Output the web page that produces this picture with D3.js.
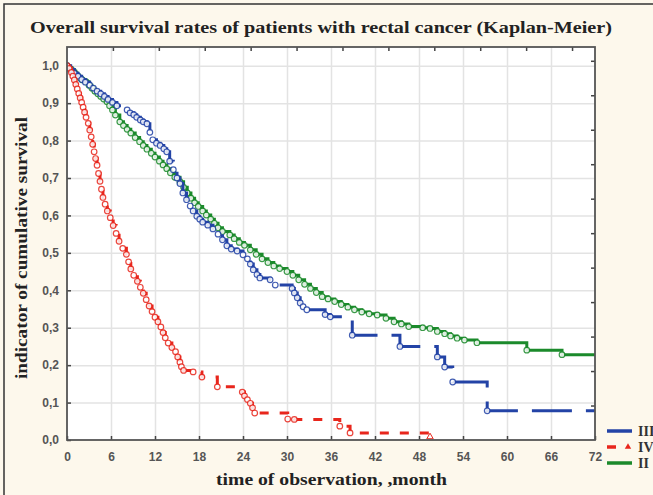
<!DOCTYPE html>
<html>
<head>
<meta charset="utf-8">
<script src="https://cdn.jsdelivr.net/npm/d3@7"></script>
<style>
  body { margin: 0; background: #fdf8ec; }
  svg { display: block; }
</style>
</head>
<body>
<svg id="chart"></svg>
<script>
const w = 653;
const h = 495;
const margin = {left: 67, right: 58, top: 47, bottom: 55};
const serif = '"Liberation Serif", "Times New Roman", serif';
const sans = '"Liberation Sans", Arial, sans-serif';

const titleText = 'Overall survival rates of patients with rectal cancer (Kaplan-Meier)';
const xTitle = 'time of observation, ,month';
const yTitle = 'indicator of cumulative survival';

//tick values
const xTicks = [0, 6, 12, 18, 24, 30, 36, 42, 48, 54, 60, 66, 72];
const yTicks = [0, 0.1, 0.2, 0.3, 0.4, 0.5, 0.6, 0.7, 0.8, 0.9, 1.0];

//stage II (months, cumulative survival)
const monthsII = [0, 0.3, 0.6, 0.9, 1.2, 1.5, 1.8, 2.1, 2.6, 3.0, 3.4, 3.8, 4.2, 4.6, 5.0, 5.45,
    5.8, 6.2, 6.6, 7.2, 7.7, 8.2, 8.7, 9.3, 9.9, 10.4, 10.9, 11.5, 12.0, 12.6, 13.1, 13.6,
    14.1, 14.7, 15.4, 15.9, 16.4, 16.9, 17.4, 17.9, 18.5, 19.0, 19.6, 20.1, 20.6, 21.2, 22.2,
    22.8, 23.5, 24.2, 25.0, 25.8, 26.6, 27.4, 28.2, 29.0, 30.0, 30.8, 31.6, 32.4, 33.2, 34.0,
    34.8, 35.6, 36.5, 37.4, 38.3, 39.2, 40.2, 41.2, 42.3, 43.5, 44.6, 45.6, 46.6, 48.5, 49.5,
    50.5, 51.5, 52.3, 53.2, 54.2, 55.9, 62.7, 67.5];
const survII = [1.0, 0.995, 0.99, 0.985, 0.978, 0.972, 0.967, 0.962, 0.957, 0.948, 0.94, 0.932, 0.925, 0.918, 0.911, 0.904,
    0.893, 0.882, 0.868, 0.85, 0.84, 0.83, 0.82, 0.808, 0.797, 0.787, 0.777, 0.766, 0.756, 0.745, 0.735, 0.725,
    0.714, 0.702, 0.69, 0.675, 0.66, 0.646, 0.634, 0.624, 0.612, 0.601, 0.59, 0.579, 0.567, 0.557, 0.548,
    0.538, 0.528, 0.52, 0.508, 0.496, 0.484, 0.474, 0.465, 0.458, 0.45, 0.44, 0.428, 0.416, 0.405, 0.394,
    0.383, 0.377, 0.37, 0.362, 0.355, 0.348, 0.342, 0.337, 0.334, 0.325, 0.316, 0.31, 0.303, 0.3, 0.298,
    0.29, 0.284, 0.278, 0.272, 0.267, 0.26, 0.24, 0.228];

//stage III
const monthsIII = [0, 0.5, 1.0, 1.5, 2.0, 2.5, 3.1, 3.6, 4.1, 4.6, 5.1, 5.6, 6.2, 6.8, 8.2, 8.6,
    9.1, 9.5, 10.0, 10.4, 10.9, 11.3, 11.7, 12.2, 12.7, 13.2, 13.6, 14.0, 14.5, 15.0, 15.4, 15.8,
    16.3, 16.8, 17.2, 17.7, 18.1, 18.5, 19.2, 19.9, 20.6, 21.2, 21.8, 22.4, 23.2, 24.0, 24.6,
    25.0, 25.4, 25.9, 26.3, 27.7, 28.4, 30.7, 31.0, 31.4, 31.8, 32.2, 32.7, 35.2, 35.9, 38.9,
    45.4, 50.5, 51.5, 52.6, 57.3];
const survIII = [1.0, 0.99, 0.98, 0.972, 0.963, 0.956, 0.948, 0.94, 0.932, 0.925, 0.918, 0.91, 0.902, 0.893, 0.882, 0.874,
    0.869, 0.862, 0.855, 0.85, 0.845, 0.822, 0.802, 0.793, 0.787, 0.778, 0.77, 0.745, 0.722, 0.7, 0.685, 0.66,
    0.642, 0.625, 0.612, 0.598, 0.59, 0.582, 0.574, 0.564, 0.55, 0.535, 0.519, 0.51, 0.505, 0.495, 0.484,
    0.47, 0.455, 0.442, 0.433, 0.428, 0.414, 0.405, 0.393, 0.38, 0.366, 0.356, 0.348, 0.335, 0.329, 0.28,
    0.25, 0.222, 0.195, 0.155, 0.078];

//stage IV
const monthsIV = [0, 0.3, 0.6, 0.8, 1.0, 1.2, 1.4, 1.6, 1.8, 2.0, 2.2, 2.4, 2.6, 2.9, 3.1, 3.3,
    3.5, 3.7, 3.9, 4.1, 4.3, 4.5, 4.7, 4.9, 5.2, 5.5, 5.9, 6.3, 6.7, 7.1, 7.6, 8.1, 8.4, 8.7,
    9.1, 9.6, 10.0, 10.4, 10.8, 11.2, 11.6, 12.0, 12.4, 12.8, 13.1, 13.4, 13.8, 14.3, 14.8,
    15.1, 15.4, 15.6, 15.9, 17.2, 18.4, 20.5, 23.9, 24.2, 24.6, 25.0, 25.3, 25.6, 30.1, 31.0,
    37.2, 38.6];
const survIV = [1.0, 0.993, 0.982, 0.972, 0.962, 0.95, 0.938, 0.926, 0.914, 0.902, 0.889, 0.876, 0.862, 0.846, 0.828, 0.81,
    0.79, 0.77, 0.752, 0.734, 0.712, 0.691, 0.67, 0.648, 0.63, 0.612, 0.594, 0.573, 0.552, 0.531, 0.512, 0.496, 0.476, 0.457,
    0.44, 0.424, 0.408, 0.392, 0.375, 0.358, 0.343, 0.328, 0.316, 0.302, 0.287, 0.273, 0.259, 0.247, 0.236,
    0.222, 0.208, 0.196, 0.186, 0.182, 0.168, 0.142, 0.128, 0.118, 0.108, 0.098, 0.086, 0.072, 0.056, 0.055,
    0.037, 0.019];

//last follow-up month of each group
const endII = 72;
const endIII = 72;
const endIV = 49.5;

const legendLabels = ['III', 'IV', 'II'];

//colors for each group
let colors = {II: '#1b8a2b', III: '#2343a6', IV: '#e8261c'};

let svg = d3.select('#chart')
    .attr('width', w)
    .attr('height', h);

//outer frame
svg.append('rect')
    .attr('x', 4)
    .attr('y', 4)
    .attr('width', w + 10)
    .attr('height', h + 10)
    .attr('fill', '#fdf8ec')
    .attr('stroke', '#333')
    .attr('stroke-width', 1.5);

let x = d3.scaleLinear().domain([0, 72]).range([margin.left, w - margin.right]);
let y = d3.scaleLinear().domain([0, 1.05]).range([h - margin.bottom, margin.top]);
//secondary scales for the top and right tick marks
let xTop = d3.scaleLinear().domain([0, 11.5]).range([margin.left, w - margin.right]);
let yRight = d3.scaleLinear().domain([0, 11.4]).range([h - margin.bottom, margin.top]);

const pw = w - margin.left - margin.right;
const ph = h - margin.top - margin.bottom;

//plot background
svg.append('rect')
    .attr('x', margin.left)
    .attr('y', margin.top)
    .attr('width', pw)
    .attr('height', ph)
    .attr('fill', '#fff');

//grid lines
let gridX = svg.append('g')
    .attr('transform', `translate(0,${h - margin.bottom})`)
    .call(d3.axisBottom(x).tickValues(xTicks.slice(1, -1)).tickSize(-ph).tickFormat(''));
let gridY = svg.append('g')
    .attr('transform', `translate(${margin.left},0)`)
    .call(d3.axisLeft(y).tickValues(yTicks.slice(1)).tickSize(-pw).tickFormat(''));
[gridX, gridY].forEach((g) => {
    g.select('.domain').remove();
    g.selectAll('line').attr('stroke', '#e3e3e3').attr('stroke-width', 1.5);
});

let fmt = (d) => d.toFixed(1).replace('.', ',');

//axes with inner ticks
let xAxis = svg.append('g')
    .attr('transform', `translate(0,${h - margin.bottom})`)
    .call(d3.axisBottom(x).tickValues(xTicks).tickSize(-4).tickPadding(12));
let yAxis = svg.append('g')
    .attr('transform', `translate(${margin.left},0)`)
    .call(d3.axisLeft(y).tickValues(yTicks).tickSize(-4).tickPadding(8).tickFormat(fmt));
let topAxis = svg.append('g')
    .attr('transform', `translate(0,${margin.top})`)
    .call(d3.axisTop(xTop).tickValues(d3.range(1, 12)).tickSize(-4).tickFormat(''));
let rightAxis = svg.append('g')
    .attr('transform', `translate(${w - margin.right},0)`)
    .call(d3.axisRight(yRight).tickValues(d3.range(1, 12)).tickSize(-4).tickFormat(''));

[xAxis, yAxis, topAxis, rightAxis].forEach((g) => {
    g.select('.domain').remove();
    g.selectAll('line').attr('stroke', '#444').attr('stroke-width', 1.5);
    g.selectAll('text')
        .attr('fill', '#555')
        .style('font-family', sans)
        .style('font-weight', 'bold')
        .style('font-size', '12px');
});

//clip for curves
svg.append('clipPath')
    .attr('id', 'clip')
    .append('rect')
        .attr('x', margin.left)
        .attr('y', margin.top - 5)
        .attr('width', pw)
        .attr('height', ph + 5);

let curves = svg.append('g').attr('clip-path', 'url(#clip)');

let line = d3.line()
    .x((d) => x(d.m))
    .y((d) => y(d.s))
    .curve(d3.curveStepAfter);

function drawCurve(months, surv, endMonth, color, dash) {
    let pts = months.map((m, i) => ({m: m, s: surv[i]}));
    let linePts = pts.concat([{m: endMonth, s: surv[surv.length - 1]}]);

    curves.append('path')
        .datum(linePts)
        .attr('d', line)
        .attr('fill', 'none')
        .attr('stroke', color)
        .attr('stroke-width', 3)
        .attr('stroke-dasharray', dash);

    curves.append('g')
        .selectAll('circle')
        .data(pts)
        .enter()
        .append('circle')
            .attr('cx', (d) => x(d.m))
            .attr('cy', (d) => y(d.s))
            .attr('r', 2.8)
            .attr('fill', '#fff')
            .attr('stroke', color)
            .attr('stroke-width', 1.2)
            .style('opacity', 0.85);
}

drawCurve(monthsII, survII, endII, colors.II, null);
drawCurve(monthsIII, survIII, endIII, colors.III, '40,14');
drawCurve(monthsIV, survIV, endIV, colors.IV, '9,11');

//censored end of stage IV
curves.append('path')
    .attr('d', d3.symbol(d3.symbolTriangle).size(18))
    .attr('transform', `translate(${x(endIV)},${y(survIV[survIV.length - 1]) + 4})`)
    .attr('fill', '#fff')
    .attr('stroke', colors.IV)
    .attr('stroke-width', 1);

//plot frame
svg.append('rect')
    .attr('x', margin.left)
    .attr('y', margin.top)
    .attr('width', pw)
    .attr('height', ph)
    .attr('fill', 'none')
    .attr('stroke', '#555')
    .attr('stroke-width', 1.8);

//titles
svg.append('text')
    .attr('x', 30)
    .attr('y', 33)
    .attr('textLength', 582)
    .attr('lengthAdjust', 'spacingAndGlyphs')
    .text(titleText)
    .style('font-family', serif)
    .style('font-weight', 'bold')
    .style('font-size', '17px')
    .attr('fill', '#222');

svg.append('text')
    .attr('x', 216)
    .attr('y', 485)
    .attr('textLength', 231)
    .attr('lengthAdjust', 'spacingAndGlyphs')
    .text(xTitle)
    .style('font-family', serif)
    .style('font-weight', 'bold')
    .style('font-size', '16px')
    .attr('fill', '#222');

svg.append('text')
    .attr('transform', 'translate(27,248) rotate(-90)')
    .attr('x', -131)
    .attr('textLength', 262)
    .attr('lengthAdjust', 'spacingAndGlyphs')
    .text(yTitle)
    .style('font-family', serif)
    .style('font-weight', 'bold')
    .style('font-size', '16px')
    .attr('fill', '#222');

//legend
let legendColors = [colors.III, colors.IV, colors.II];
let legend = svg.selectAll('g.legend')
    .data(legendLabels)
    .enter()
    .append('g')
        .attr('class', 'legend')
        .attr('transform', (d, i) => `translate(607,${431 + i * 16})`);

legend.append('line')
    .attr('x1', 0)
    .attr('x2', (d) => d === 'IV' ? 9 : 25)
    .attr('stroke', (d, i) => legendColors[i])
    .attr('stroke-width', 3.5);

legend.filter((d) => d === 'IV')
    .append('path')
        .attr('d', d3.symbol(d3.symbolTriangle).size(18))
        .attr('transform', 'translate(21,0)')
        .attr('fill', colors.IV);

legend.append('text')
    .attr('x', 31)
    .attr('y', 5)
    .text((d) => d)
    .style('font-family', serif)
    .style('font-weight', 'bold')
    .style('font-size', '14px')
    .attr('fill', '#333');
</script>
</body>
</html>
